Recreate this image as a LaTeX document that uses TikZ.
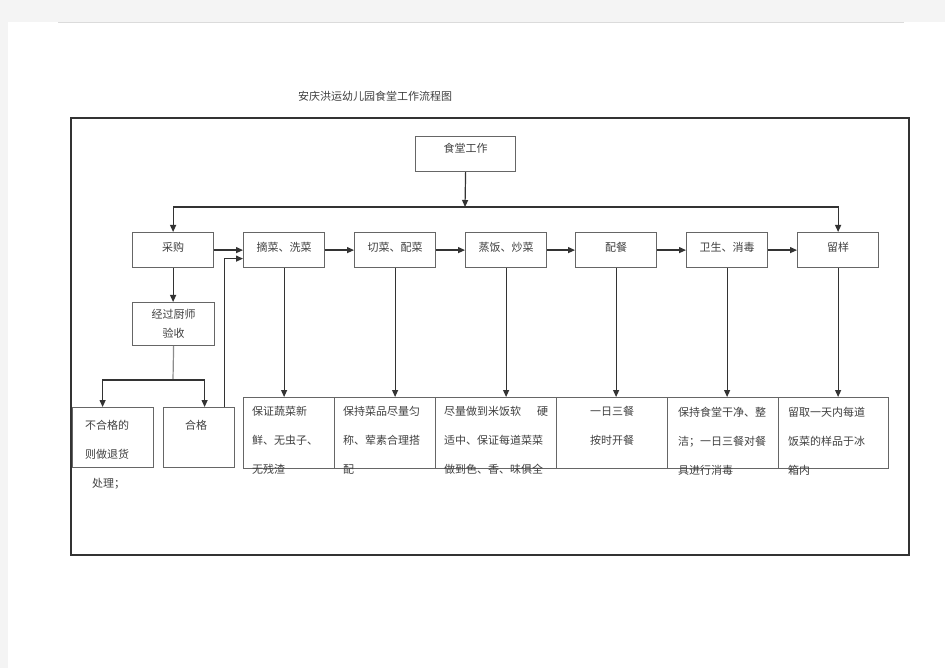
\documentclass[tikz,border=0pt]{standalone}
\usepackage{fontspec}
\setmainfont{Noto Sans CJK SC}
\usetikzlibrary{arrows.meta,calc}
\definecolor{bggray}{HTML}{F4F4F4}
\definecolor{linec}{HTML}{333333}
\definecolor{boxc}{HTML}{666666}
\definecolor{txtc}{HTML}{404040}
\begin{document}
\begin{tikzpicture}[x=1pt,y=-1pt,
  box/.style={draw=boxc,line width=1.2pt,fill=white,inner sep=0pt,anchor=north west,
    text=txtc,font=\fontsize{11}{19}\selectfont},
  rowbox/.style={box,minimum width=81pt,minimum height=35pt,text depth=7pt},
  lowbox/.style={box,minimum height=71pt},
  arr/.style={draw=linec,line width=1.2pt,-{Triangle[length=7pt,width=6pt]}},
  txt/.style={text=txtc,font=\fontsize{11}{29}\selectfont,inner sep=0pt,align=left}
]
\useasboundingbox (0,0) rectangle (945,668);
\fill[bggray] (0,0) rectangle (945,668);
\fill[white] (8,22) rectangle (945,668);
\draw[black!14,line width=0.8pt] (58,22.5) -- (904,22.5);

% outer frame
\draw[linec,line width=2.2pt] (71,118) rectangle (909,555);

% title
\node[txt] (title) at (375,96) {安庆洪运幼儿园食堂工作流程图};

% top box
\node[box,minimum width=100pt,minimum height=35pt,text depth=12pt] (st) at (415,136) {食堂工作};

% row of steps
\node[rowbox] (t1) at (132,232) {采购};
\node[rowbox] (t2) at (243,232) {摘菜、洗菜};
\node[rowbox] (t3) at (354,232) {切菜、配菜};
\node[rowbox] (t4) at (465,232) {蒸饭、炒菜};
\node[rowbox] (t5) at (575,232) {配餐};
\node[rowbox] (t6) at (686,232) {卫生、消毒};
\node[rowbox] (t7) at (797,232) {留样};

% inspection
\node[box,minimum width=82pt,minimum height=43pt,align=center] (jg) at (132,302) {经过厨师\\验收};
\node[box,minimum width=81pt,minimum height=60pt] (bh) at (72,407) {};
\node[box,minimum width=71pt,minimum height=60pt] (hg) at (163,407) {};
\node[txt,anchor=north west] (bht) at (85,420.5) {不合格的\\则做退货\\\hspace*{7pt}处理；};
\node[txt] (hgt) at (196,425) {合格};

% lower boxes
\node[lowbox,minimum width=91pt] (b1) at (243,397) {};
\node[lowbox,minimum width=101pt] (b2) at (334,397) {};
\node[lowbox,minimum width=121pt] (b3) at (435,397) {};
\node[lowbox,minimum width=111pt] (b4) at (556,397) {};
\node[lowbox,minimum width=111pt] (b5) at (667,397) {};
\node[lowbox,minimum width=110pt] (b6) at (778,397) {};

\node[txt,anchor=north west] (bt1) at (252,406.5) {保证蔬菜新\\鲜、无虫子、\\无残渣};
\node[txt,anchor=north west] (bt2) at (343,406.5) {保持菜品尽量匀\\称、荤素合理搭\\配};
\node[txt,anchor=north west] (bt3) at (444,406.5) {尽量做到米饭软\hspace{16pt}硬\\适中、保证每道菜菜\\做到色、香、味俱全};
\node[txt,anchor=north,align=center] (bt4) at (612,406.5) {一日三餐\\按时开餐};
\node[txt,anchor=north west] (bt5) at (678,406.5) {保持食堂干净、整\\洁；一日三餐对餐\\具进行消毒};
\node[txt,anchor=north west] (bt6) at (788,406.5) {留取一天内每道\\饭菜的样品于冰\\箱内};

% connectors
\coordinate (j) at (465,207);
\draw[arr] (st.south) -- (j);
\draw[arr] (j) -| (t1.north);
\draw[arr] (j) -| (t7.north);

\draw[arr] (t1.east) -- (t2.west);
\draw[arr] (t2.east) -- (t3.west);
\draw[arr] (t3.east) -- (t4.west);
\draw[arr] (t4.east) -- (t5.west);
\draw[arr] (t5.east) -- (t6.west);
\draw[arr] (t6.east) -- (t7.west);

\draw[arr] (t1.south) -- (t1.south |- jg.north);
\coordinate (jn) at (173,380);
\draw[draw=black!45,line width=1.2pt] (jg.south) -- (jn);
\draw[arr] (jn) -| ($(bh.north)+(-10.5,0)$);
\draw[arr] (jn) -| ($(hg.north)+(5.5,0)$);
\draw[arr] ($(hg.north east)+(-11,0)$) |- ($(t2.west)+(0,8.5)$);

\draw[arr] (t2.south) -- (t2.south |- b1.north);
\draw[arr] (t3.south) -- (t3.south |- b2.north);
\draw[arr] (t4.south) -- (t4.south |- b3.north);
\draw[arr] (t5.south) -- (t5.south |- b4.north);
\draw[arr] (t6.south) -- (t6.south |- b5.north);
\draw[arr] (t7.south) -- (t7.south |- b6.north);
\end{tikzpicture}
\end{document}
